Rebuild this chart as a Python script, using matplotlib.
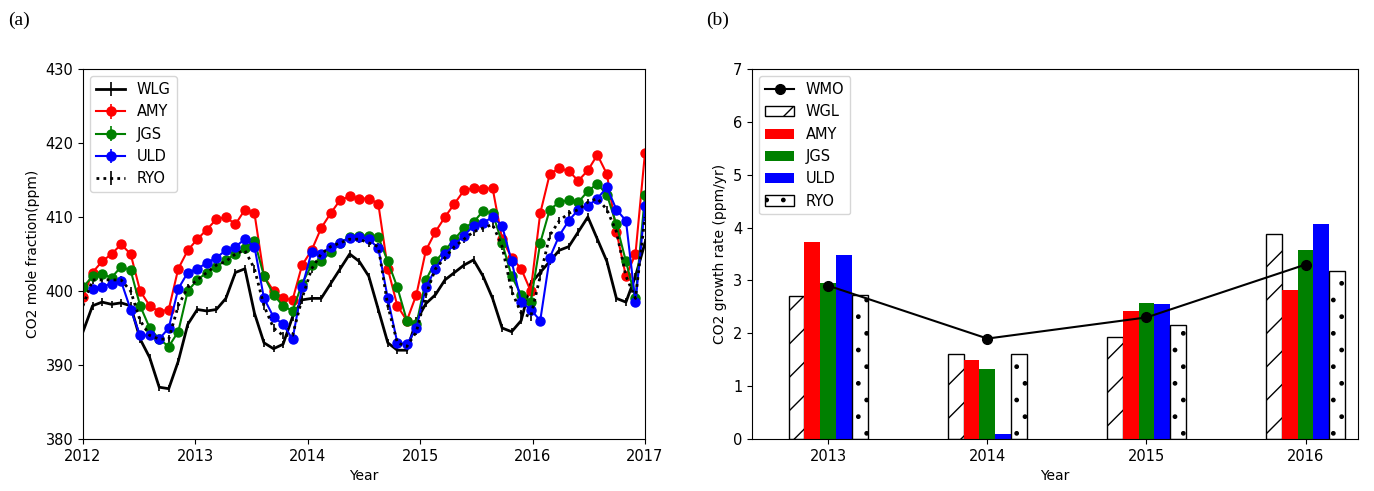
import numpy as np
import matplotlib
matplotlib.use("Agg")
import matplotlib.pyplot as plt

plt.rcParams['hatch.linewidth'] = 1.0

# monthly CO2 (ppm), Jan 2012 - Dec 2016
t = 2012 + np.arange(60) / 11.8
wlg = [394.5, 398, 398.5, 398.2, 398.4, 398, 393.5, 391, 387, 386.8, 390.5, 395.5,
       397.5, 397.3, 397.5, 399, 402.5, 403, 397, 393, 392.2, 392.8, 396.5, 398.8,
       399, 399, 401, 403, 405, 404, 402, 397.5, 393, 392, 392, 396,
       398.3, 399.5, 401.5, 402.5, 403.5, 404.2, 402, 399, 395, 394.5, 396, 401,
       402.5, 404, 405.5, 406, 408, 410, 407, 404, 399, 398.5, 402, 406.5]
amy = [399.2, 402.5, 404, 405, 406.3, 405, 400, 398, 397.2, 397.5, 403, 405.5,
       407, 408.3, 409.7, 410, 409, 411, 410.5, 402, 400, 399, 398.8, 403.5,
       405.5, 408.5, 410.5, 412.3, 412.8, 412.5, 412.5, 411.8, 403, 398, 396, 399.5,
       405.5, 408, 410, 411.8, 413.6, 413.9, 413.8, 413.9, 407, 404.5, 403, 400,
       410.5, 415.8, 416.6, 416.2, 414.9, 416.3, 418.4, 415.8, 408, 402, 405, 418.7]
jgs = [400.5, 402, 402.3, 401.8, 403.3, 402.8, 398, 395, 393.5, 392.5, 394.5, 400,
       401.5, 402.5, 403.3, 404.2, 405, 405.8, 406.8, 402, 399.5, 398, 397.3, 401,
       403.5, 404, 405.3, 406.5, 407.3, 407.5, 407.5, 407.3, 404, 400.5, 396, 395.5,
       401.5, 404, 405.5, 407, 408.5, 409.3, 410.8, 410.5, 406.5, 402, 399.5, 398.5,
       406.5, 411, 412, 412.3, 412, 413.5, 414.5, 413, 409, 404, 399, 413]
uld = [np.nan, 400.3, 400.6, 401, 401.3, 397.5, 394, 394, 393.5, 395, 400.3, 402.5,
       403, 403.8, 404.5, 405.5, 406, 407, 406, 399, 396.5, 395.5, 393.5, 400.5,
       405.3, 405, 406, 406.5, 407.2, 407.3, 407, 405.8, 399, 393, 392.8, 395,
       400.5, 403, 405, 406.3, 407.5, 408.8, 409.2, 410, 408.8, 404, 398.5, 397.5,
       396, 404.5, 407.5, 409.5, 411, 411.5, 412.5, 414, 411, 409.5, 398.5, 411.5]
ryo = [398, 401.5, 401.5, 401.5, 401.5, 400, 396, 394, 393.5, 393.5, 398, 400.5,
       401.5, 402.5, 403.5, 404, 405, 405.5, 403, 398, 395, 394, 394, 399,
       403, 405, 406, 406.5, 407, 407, 406.5, 406, 398, 393, 392.5, 394.5,
       399.5, 403, 404.5, 406, 407, 408, 408.5, 409, 406, 400, 397, 396.5,
       402, 407.5, 409.5, 410.5, 411, 412, 412.5, 411, 408, 402, 399, 410]
err = 0.5

# growth rates (ppm/yr)
years = [2013, 2014, 2015, 2016]
wmo = [2.9, 1.9, 2.3, 3.3]
g_wgl = [2.7, 1.6, 1.93, 3.88]
g_amy = [3.73, 1.49, 2.43, 2.82]
g_jgs = [2.95, 1.33, 2.58, 3.58]
g_uld = [3.48, 0.1, 2.55, 4.06]
g_ryo = [2.73, 1.6, 2.15, 3.18]

fig = plt.figure(figsize=(13.74, 4.91), dpi=100)
ax1 = fig.add_axes([83/1374, 52/491, 562/1374, 370/491])
ax2 = fig.add_axes([752/1374, 52/491, 606/1374, 370/491])

ax1.errorbar(t, wlg, yerr=err, color='k', lw=2, elinewidth=1.2, label='WLG')
ax1.errorbar(t, amy, yerr=err, color='red', marker='o', ms=6.5, lw=1.5, elinewidth=1.2, label='AMY')
ax1.errorbar(t, jgs, yerr=err, color='green', marker='o', ms=6.5, lw=1.5, elinewidth=1.2, label='JGS')
ax1.errorbar(t, uld, yerr=err, color='blue', marker='o', ms=6.5, lw=1.5, elinewidth=1.2, label='ULD')
ax1.errorbar(t, ryo, yerr=err, color='k', ls=(0, (1, 1.5)), lw=2, elinewidth=1.2, label='RYO')
ax1.set_xlim(2012, 2017)
ax1.set_ylim(380, 430)
ax1.set_xlabel('Year')
ax1.set_ylabel('CO2 mole fraction(ppm)')
ax1.legend(loc='upper left', fontsize=10.5)

x = np.array(years)
w = 0.1
ax2.plot(x, wmo, 'k-o', lw=1.5, ms=7, label='WMO', zorder=5)
ax2.bar(x - 2*w, g_wgl, w, facecolor='white', edgecolor='k', hatch='/', label='WGL')
ax2.bar(x - w, g_amy, w, color='red', label='AMY')
ax2.bar(x, g_jgs, w, color='green', label='JGS')
ax2.bar(x + w, g_uld, w, color='blue', label='ULD')
ax2.bar(x + 2*w, g_ryo, w, facecolor='white', edgecolor='k', hatch='.', label='RYO')
ax2.set_xlim(2012.52, 2016.33)
ax2.set_ylim(0, 7)
ax2.set_xticks(years)
ax2.set_xlabel('Year')
ax2.set_ylabel('CO2 growth rate (ppm/yr)')
ax2.legend(loc='upper left', fontsize=10.5)

for ax in (ax1, ax2):
    ax.tick_params(labelsize=10.5)
fig.text(8/1374, 1 - 20/491, '(a)', fontsize=14, family='Liberation Serif', va='center')
fig.text(706/1374, 1 - 20/491, '(b)', fontsize=14, family='Liberation Serif', va='center')

fig.savefig('out.png', dpi=100)
